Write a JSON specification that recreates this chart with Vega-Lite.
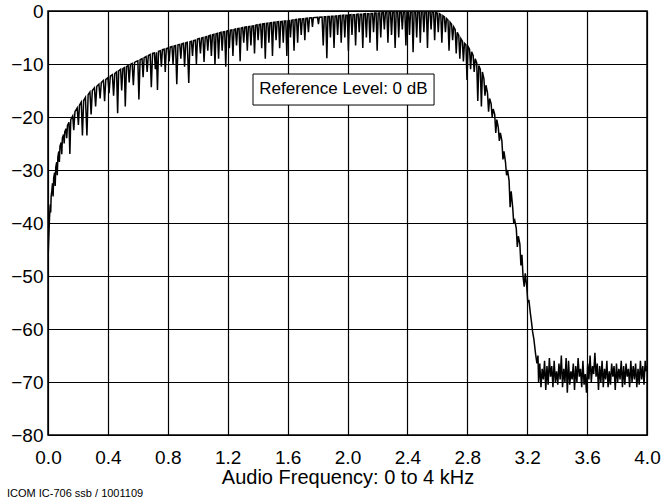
{
"$schema":"https://vega.github.io/schema/vega-lite/v6.json",
"width":599,"height":424,
"autosize":{"type":"none"},
"padding":{"left":48,"top":11,"right":17,"bottom":66},
"background":"#ffffff",
"config":{"font":"Liberation Sans","view":{"stroke":"#000","strokeWidth":1.5}},
"title":{"text":"ICOM IC-706 ssb / 1001109","orient":"bottom","anchor":"start","frame":"group","dx":-41,"offset":1,"fontSize":11,"fontWeight":"normal","color":"#000","baseline":"top"},
"datasets":{
"note":[{"f1":1.369,"f2":2.578,"y1":-11.89,"y2":-17.74,"fc":1.973,"yc":-14.8,"label":"Reference Level: 0 dB"}],
"spec":[
{"f":0.000,"db":-47},{"f":0.005,"db":-43},{"f":0.010,"db":-39},{"f":0.015,"db":-36.5},{"f":0.018,"db":-38},{"f":0.021,"db":-35},{"f":0.026,"db":-33.8},{"f":0.030,"db":-32.5},{"f":0.034,"db":-35},{"f":0.038,"db":-31.5},{"f":0.044,"db":-30.5},{"f":0.048,"db":-33},{"f":0.052,"db":-29.5},{"f":0.058,"db":-28.5},{"f":0.062,"db":-31},{"f":0.066,"db":-27.5},{"f":0.072,"db":-26.5},{"f":0.076,"db":-28.5},{"f":0.080,"db":-25.5},{"f":0.088,"db":-24.8},{"f":0.092,"db":-27},{"f":0.096,"db":-24},{"f":0.104,"db":-23.3},{"f":0.108,"db":-25},{"f":0.112,"db":-22.8},{"f":0.120,"db":-22.2},{"f":0.125,"db":-24},{"f":0.130,"db":-21.6},{"f":0.140,"db":-21},{"f":0.146,"db":-27},{"f":0.152,"db":-20.5},{"f":0.165,"db":-19.8},{"f":0.172,"db":-22.5},{"f":0.180,"db":-19},{"f":0.195,"db":-18.3},{"f":0.203,"db":-21.5},{"f":0.210,"db":-17.8},{"f":0.222,"db":-17.2},{"f":0.230,"db":-23.5},{"f":0.238,"db":-16.9},{"f":0.250,"db":-16.3},{"f":0.260,"db":-23.5},{"f":0.268,"db":-15.8},{"f":0.280,"db":-15.3},{"f":0.288,"db":-19.5},{"f":0.296,"db":-15},{"f":0.310,"db":-14.5},{"f":0.318,"db":-18},{"f":0.326,"db":-14.2},{"f":0.340,"db":-13.8},{"f":0.348,"db":-16.5},{"f":0.356,"db":-13.5},{"f":0.370,"db":-13.1},{"f":0.378,"db":-17},{"f":0.386,"db":-12.9},{"f":0.400,"db":-12.6},{"f":0.408,"db":-15.5},{"f":0.416,"db":-12.3},{"f":0.430,"db":-12},{"f":0.438,"db":-16},{"f":0.446,"db":-11.8},{"f":0.458,"db":-11.5},{"f":0.465,"db":-19.3},{"f":0.472,"db":-11.3},{"f":0.485,"db":-11},{"f":0.492,"db":-15},{"f":0.500,"db":-10.9},{"f":0.510,"db":-10.7},{"f":0.516,"db":-18},{"f":0.524,"db":-10.5},{"f":0.535,"db":-10.3},{"f":0.542,"db":-13.5},{"f":0.550,"db":-10.1},{"f":0.562,"db":-9.9},{"f":0.570,"db":-14},{"f":0.578,"db":-9.7},{"f":0.590,"db":-9.5},{"f":0.600,"db":-9.4},{"f":0.607,"db":-16.7},{"f":0.615,"db":-9.2},{"f":0.628,"db":-9},{"f":0.635,"db":-12.5},{"f":0.642,"db":-8.8},{"f":0.655,"db":-8.6},{"f":0.662,"db":-11.5},{"f":0.670,"db":-8.4},{"f":0.682,"db":-8.2},{"f":0.690,"db":-14.4},{"f":0.698,"db":-8.0},{"f":0.710,"db":-7.9},{"f":0.717,"db":-11},{"f":0.724,"db":-7.8},{"f":0.731,"db":-14.9},{"f":0.738,"db":-7.6},{"f":0.750,"db":-7.5},{"f":0.757,"db":-10.5},{"f":0.764,"db":-7.3},{"f":0.776,"db":-7.2},{"f":0.783,"db":-11.5},{"f":0.790,"db":-7.1},{"f":0.802,"db":-7.0},{"f":0.809,"db":-9.5},{"f":0.816,"db":-6.8},{"f":0.828,"db":-6.7},{"f":0.835,"db":-10},{"f":0.842,"db":-6.6},{"f":0.852,"db":-6.5},{"f":0.860,"db":-13.8},{"f":0.868,"db":-6.4},{"f":0.880,"db":-6.3},{"f":0.887,"db":-9},{"f":0.894,"db":-6.2},{"f":0.905,"db":-6.1},{"f":0.912,"db":-10.5},{"f":0.920,"db":-6.0},{"f":0.930,"db":-5.9},{"f":0.940,"db":-13.6},{"f":0.948,"db":-5.8},{"f":0.958,"db":-5.7},{"f":0.965,"db":-8.5},{"f":0.972,"db":-5.6},{"f":0.984,"db":-5.5},{"f":0.991,"db":-10},{"f":0.998,"db":-5.3},
{"f":1.010,"db":-5.2},{"f":1.018,"db":-8},{"f":1.025,"db":-5.1},{"f":1.035,"db":-5.0},{"f":1.042,"db":-9.6},{"f":1.050,"db":-4.9},{"f":1.060,"db":-4.8},{"f":1.067,"db":-7.5},{"f":1.074,"db":-4.7},{"f":1.084,"db":-4.6},{"f":1.091,"db":-8.5},{"f":1.098,"db":-4.5},{"f":1.108,"db":-4.4},{"f":1.115,"db":-10.2},{"f":1.122,"db":-4.3},{"f":1.132,"db":-4.2},{"f":1.139,"db":-9},{"f":1.146,"db":-4.1},{"f":1.156,"db":-4.0},{"f":1.163,"db":-7.5},{"f":1.170,"db":-3.95},{"f":1.180,"db":-3.9},{"f":1.187,"db":-10.5},{"f":1.194,"db":-3.8},{"f":1.204,"db":-3.7},{"f":1.211,"db":-7},{"f":1.218,"db":-3.6},{"f":1.228,"db":-3.55},{"f":1.235,"db":-8.5},{"f":1.242,"db":-3.5},{"f":1.252,"db":-3.4},{"f":1.259,"db":-6.5},{"f":1.266,"db":-3.35},{"f":1.276,"db":-3.3},{"f":1.283,"db":-9.5},{"f":1.290,"db":-3.2},{"f":1.300,"db":-3.1},{"f":1.307,"db":-6},{"f":1.314,"db":-3.05},{"f":1.324,"db":-3.0},{"f":1.331,"db":-7.5},{"f":1.338,"db":-2.95},{"f":1.348,"db":-2.9},{"f":1.355,"db":-6.5},{"f":1.362,"db":-2.85},{"f":1.372,"db":-2.8},{"f":1.379,"db":-8},{"f":1.386,"db":-2.7},{"f":1.396,"db":-2.6},{"f":1.403,"db":-5.5},{"f":1.410,"db":-2.55},{"f":1.420,"db":-2.5},{"f":1.427,"db":-7},{"f":1.434,"db":-2.45},{"f":1.444,"db":-2.4},{"f":1.451,"db":-9},{"f":1.458,"db":-2.35},{"f":1.468,"db":-2.3},{"f":1.475,"db":-6},{"f":1.482,"db":-2.25},{"f":1.492,"db":-2.2},{"f":1.499,"db":-8.5},{"f":1.506,"db":-2.15},{"f":1.516,"db":-2.1},{"f":1.523,"db":-5.5},{"f":1.530,"db":-2.05},{"f":1.540,"db":-2.0},{"f":1.547,"db":-7},{"f":1.554,"db":-2.0},{"f":1.564,"db":-1.95},{"f":1.571,"db":-6},{"f":1.578,"db":-1.9},{"f":1.588,"db":-1.9},{"f":1.595,"db":-8.5},{"f":1.602,"db":-1.85},{"f":1.612,"db":-1.8},{"f":1.619,"db":-5},{"f":1.626,"db":-1.75},{"f":1.636,"db":-1.7},{"f":1.643,"db":-7.5},{"f":1.650,"db":-1.65},{"f":1.660,"db":-1.6},{"f":1.667,"db":-6},{"f":1.674,"db":-1.55},{"f":1.684,"db":-1.5},{"f":1.691,"db":-4.5},{"f":1.698,"db":-1.5},{"f":1.708,"db":-1.45},{"f":1.715,"db":-5.5},{"f":1.722,"db":-1.4},{"f":1.732,"db":-1.35},{"f":1.739,"db":-4},{"f":1.746,"db":-1.3},{"f":1.760,"db":-1.28},{"f":1.766,"db":-3},{"f":1.772,"db":-1.25},{"f":1.800,"db":-1.2},{"f":1.806,"db":-2.5},{"f":1.812,"db":-1.18},{"f":1.830,"db":-1.15},{"f":1.838,"db":-6.5},{"f":1.845,"db":-1.1},{"f":1.855,"db":-1.1},{"f":1.862,"db":-8.9},{"f":1.869,"db":-1.05},{"f":1.879,"db":-1.05},{"f":1.886,"db":-5},{"f":1.893,"db":-1.0},{"f":1.903,"db":-1.0},{"f":1.910,"db":-7},{"f":1.917,"db":-0.95},{"f":1.927,"db":-0.9},{"f":1.934,"db":-4.5},{"f":1.941,"db":-0.9},{"f":1.951,"db":-0.85},{"f":1.958,"db":-6},{"f":1.965,"db":-0.85},{"f":1.975,"db":-0.8},{"f":1.982,"db":-5},{"f":1.989,"db":-0.8},{"f":1.999,"db":-0.8},
{"f":2.006,"db":-7.5},{"f":2.013,"db":-0.75},{"f":2.023,"db":-0.7},{"f":2.030,"db":-4.5},{"f":2.037,"db":-0.7},{"f":2.047,"db":-0.7},{"f":2.054,"db":-6.5},{"f":2.061,"db":-0.65},{"f":2.071,"db":-0.6},{"f":2.078,"db":-4},{"f":2.085,"db":-0.6},{"f":2.095,"db":-0.6},{"f":2.102,"db":-7},{"f":2.109,"db":-0.55},{"f":2.119,"db":-0.5},{"f":2.126,"db":-5},{"f":2.133,"db":-0.5},{"f":2.143,"db":-0.5},{"f":2.150,"db":-6},{"f":2.157,"db":-0.45},{"f":2.167,"db":-0.45},{"f":2.174,"db":-4},{"f":2.181,"db":-0.4},{"f":2.191,"db":-0.4},{"f":2.198,"db":-7.5},{"f":2.205,"db":-0.4},{"f":2.215,"db":-0.35},{"f":2.222,"db":-5},{"f":2.229,"db":-0.35},{"f":2.239,"db":-0.3},{"f":2.246,"db":-3.5},{"f":2.253,"db":-0.3},{"f":2.263,"db":-0.3},{"f":2.270,"db":-6},{"f":2.277,"db":-0.3},{"f":2.287,"db":-0.25},{"f":2.294,"db":-4.5},{"f":2.301,"db":-0.25},{"f":2.311,"db":-0.25},{"f":2.318,"db":-7},{"f":2.325,"db":-0.2},{"f":2.335,"db":-0.2},{"f":2.342,"db":-5},{"f":2.349,"db":-0.2},{"f":2.359,"db":-0.2},{"f":2.366,"db":-3.5},{"f":2.373,"db":-0.2},{"f":2.383,"db":-0.15},{"f":2.390,"db":-6.5},{"f":2.397,"db":-0.15},{"f":2.407,"db":-0.1},{"f":2.414,"db":-4.5},{"f":2.421,"db":-0.1},{"f":2.431,"db":-0.1},{"f":2.438,"db":-7.8},{"f":2.445,"db":-0.1},{"f":2.455,"db":-0.05},{"f":2.462,"db":-5},{"f":2.469,"db":-0.05},{"f":2.479,"db":0},{"f":2.486,"db":-6},{"f":2.493,"db":0},{"f":2.503,"db":0},{"f":2.510,"db":-4},{"f":2.517,"db":0},{"f":2.527,"db":0},{"f":2.534,"db":-7},{"f":2.541,"db":0},{"f":2.551,"db":0},{"f":2.558,"db":-3.5},{"f":2.565,"db":-0.1},{"f":2.575,"db":-0.2},{"f":2.582,"db":-5.5},{"f":2.589,"db":-0.3},{"f":2.599,"db":-0.4},{"f":2.606,"db":-4},{"f":2.613,"db":-0.5},{"f":2.623,"db":-0.7},{"f":2.630,"db":-6},{"f":2.637,"db":-0.9},{"f":2.647,"db":-1.1},{"f":2.654,"db":-4},{"f":2.661,"db":-1.4},{"f":2.671,"db":-1.7},{"f":2.678,"db":-7.5},{"f":2.685,"db":-2.1},{"f":2.695,"db":-2.5},{"f":2.702,"db":-5.5},{"f":2.709,"db":-3.0},{"f":2.719,"db":-3.5},{"f":2.726,"db":-8},{"f":2.733,"db":-4.0},{"f":2.743,"db":-4.6},{"f":2.750,"db":-9},{"f":2.757,"db":-5.2},{"f":2.767,"db":-5.7},{"f":2.774,"db":-9.5},{"f":2.781,"db":-6.1},{"f":2.791,"db":-6.4},{"f":2.798,"db":-13},{"f":2.805,"db":-6.7},{"f":2.815,"db":-7.2},{"f":2.822,"db":-11},{"f":2.829,"db":-7.7},{"f":2.839,"db":-8.4},{"f":2.846,"db":-11.5},{"f":2.853,"db":-9.0},{"f":2.863,"db":-9.8},{"f":2.870,"db":-17},{"f":2.877,"db":-10.3},{"f":2.887,"db":-11},{"f":2.894,"db":-18},{"f":2.901,"db":-11.5},{"f":2.911,"db":-12.8},{"f":2.918,"db":-16},{"f":2.925,"db":-14},{"f":2.935,"db":-15.5},{"f":2.942,"db":-19},{"f":2.949,"db":-16.5},{"f":2.959,"db":-17.5},{"f":2.966,"db":-20},{"f":2.973,"db":-18.5},{"f":2.983,"db":-19.5},{"f":2.990,"db":-23},{"f":2.997,"db":-20.5},
{"f":3.007,"db":-22},{"f":3.014,"db":-24.5},{"f":3.021,"db":-23},{"f":3.031,"db":-24.5},{"f":3.038,"db":-28},{"f":3.045,"db":-26.5},{"f":3.055,"db":-28.5},{"f":3.062,"db":-31},{"f":3.069,"db":-30},{"f":3.079,"db":-32},{"f":3.086,"db":-37},{"f":3.093,"db":-34},{"f":3.103,"db":-37},{"f":3.110,"db":-40},{"f":3.117,"db":-39.5},{"f":3.127,"db":-41},{"f":3.134,"db":-44.5},{"f":3.141,"db":-42.5},{"f":3.151,"db":-44},{"f":3.158,"db":-48},{"f":3.165,"db":-46},{"f":3.172,"db":-50},{"f":3.180,"db":-52},{"f":3.187,"db":-49.5},{"f":3.197,"db":-52},{"f":3.204,"db":-55},{"f":3.211,"db":-54.5},{"f":3.221,"db":-57},{"f":3.228,"db":-58.5},{"f":3.236,"db":-60.5},{"f":3.245,"db":-62},{"f":3.255,"db":-64.5},{"f":3.265,"db":-66.5},{"f":3.272,"db":-65},
{"f":3.276,"db":-70},{"f":3.284,"db":-66.5},{"f":3.292,"db":-71},{"f":3.300,"db":-67.5},{"f":3.308,"db":-69.5},{"f":3.316,"db":-66},{"f":3.324,"db":-71.5},{"f":3.332,"db":-67},{"f":3.340,"db":-70.5},{"f":3.348,"db":-65.5},{"f":3.356,"db":-69},{"f":3.364,"db":-67},{"f":3.372,"db":-71},{"f":3.380,"db":-66},{"f":3.388,"db":-70},{"f":3.396,"db":-68},{"f":3.404,"db":-70.5},{"f":3.412,"db":-66.5},{"f":3.420,"db":-69.5},{"f":3.428,"db":-65},{"f":3.436,"db":-71},{"f":3.444,"db":-67.5},{"f":3.452,"db":-70},{"f":3.460,"db":-65.5},{"f":3.468,"db":-72},{"f":3.476,"db":-66},{"f":3.484,"db":-70.5},{"f":3.492,"db":-68},{"f":3.500,"db":-69.5},{"f":3.508,"db":-66.5},{"f":3.516,"db":-71.5},{"f":3.524,"db":-67},{"f":3.532,"db":-70},{"f":3.540,"db":-65.5},{"f":3.548,"db":-69},{"f":3.556,"db":-67.5},{"f":3.564,"db":-71},{"f":3.572,"db":-66},{"f":3.580,"db":-70.5},{"f":3.588,"db":-68.5},{"f":3.596,"db":-72},{"f":3.604,"db":-66.5},{"f":3.612,"db":-69.5},{"f":3.620,"db":-65},{"f":3.628,"db":-70},{"f":3.636,"db":-67},{"f":3.644,"db":-68.5},{"f":3.652,"db":-64.5},{"f":3.660,"db":-69},{"f":3.668,"db":-66.5},{"f":3.676,"db":-71.5},{"f":3.684,"db":-67},{"f":3.692,"db":-70},{"f":3.700,"db":-66},{"f":3.708,"db":-71},{"f":3.716,"db":-67.5},{"f":3.724,"db":-69.5},{"f":3.732,"db":-66},{"f":3.740,"db":-71},{"f":3.748,"db":-68},{"f":3.756,"db":-70.5},{"f":3.764,"db":-66.5},{"f":3.772,"db":-69},{"f":3.780,"db":-67},{"f":3.788,"db":-71.5},{"f":3.796,"db":-66.5},{"f":3.804,"db":-70},{"f":3.812,"db":-67.5},{"f":3.820,"db":-69.5},{"f":3.828,"db":-66},{"f":3.836,"db":-71},{"f":3.844,"db":-67},{"f":3.852,"db":-70.5},{"f":3.860,"db":-66.5},{"f":3.868,"db":-69},{"f":3.876,"db":-67.5},{"f":3.884,"db":-71},{"f":3.892,"db":-66},{"f":3.900,"db":-70},{"f":3.908,"db":-67},{"f":3.916,"db":-69.5},{"f":3.924,"db":-66.5},{"f":3.932,"db":-71},{"f":3.940,"db":-67.5},{"f":3.948,"db":-70.5},{"f":3.956,"db":-66},{"f":3.964,"db":-69.5},{"f":3.972,"db":-67},{"f":3.980,"db":-70.5},{"f":3.988,"db":-66},{"f":3.996,"db":-68},{"f":4.000,"db":-67}
]},
"layer":[
{"data":{"name":"spec"},
 "mark":{"type":"line","color":"#000","strokeWidth":1.5,"clip":true},
 "encoding":{
  "x":{"field":"f","type":"quantitative","scale":{"domain":[0,4],"nice":false,"zero":false},
       "axis":{"values":[0,0.4,0.8,1.2,1.6,2.0,2.4,2.8,3.2,3.6,4.0],"format":".1f","title":"Audio Frequency: 0 to 4 kHz","titleFontSize":20,"titleFontWeight":"normal","titleColor":"#000","titlePadding":0,"labelFontSize":19,"labelColor":"#000","labelPadding":13,"ticks":false,"domain":false,"grid":true,"gridColor":"#000","gridOpacity":1,"gridWidth":1.2,"labelFlush":false,"labelOverlap":false}},
  "y":{"field":"db","type":"quantitative","scale":{"domain":[-80,0],"nice":false,"zero":false},
       "axis":{"values":[-80,-70,-60,-50,-40,-30,-20,-10,0],"title":"","labelFontSize":19,"labelColor":"#000","labelPadding":5,"ticks":false,"domain":false,"grid":true,"gridColor":"#000","gridOpacity":1,"gridWidth":1.2,"labelFlush":false,"labelOverlap":false}}
 }},
{"data":{"name":"note"},
 "mark":{"type":"rect","fill":"#fff","stroke":"#000","strokeWidth":1},
 "encoding":{"x":{"field":"f1","type":"quantitative","title":"Audio Frequency: 0 to 4 kHz"},"x2":{"field":"f2"},"y":{"field":"y1","type":"quantitative","title":""},"y2":{"field":"y2"}}},
{"data":{"name":"note"},
 "mark":{"type":"text","fontSize":17,"align":"center","baseline":"middle","color":"#000"},
 "encoding":{"x":{"field":"fc","type":"quantitative","title":"Audio Frequency: 0 to 4 kHz"},"y":{"field":"yc","type":"quantitative","title":""},"text":{"field":"label"}}}
]
}
